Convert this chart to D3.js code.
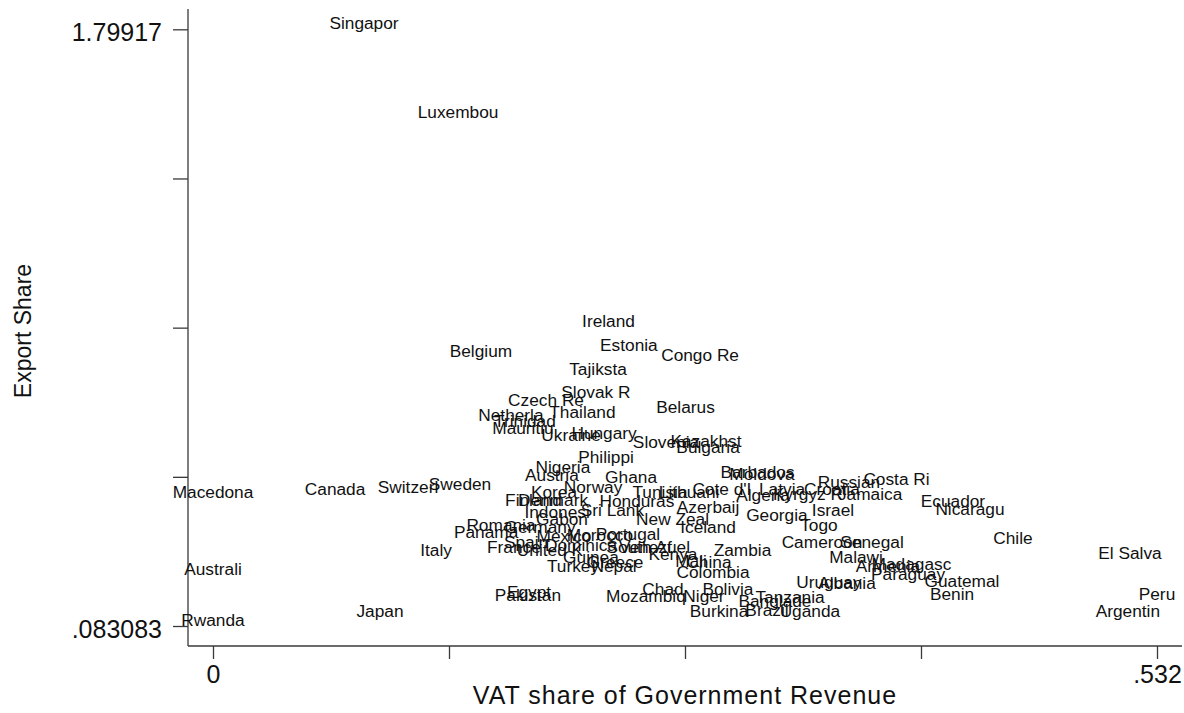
<!DOCTYPE html>
<html>
<head>
<meta charset="utf-8">
<script src="https://cdn.jsdelivr.net/npm/d3@7"></script>
<style>
  html, body { margin: 0; padding: 0; background: #ffffff; }
  svg { display: block; font-family: "Liberation Sans", Arial, Helvetica, sans-serif; }
</style>
</head>
<body>
<svg id="chart" width="1184" height="713"></svg>
<script>
const countries = ["Singapor","Luxembou","Ireland","Belgium","Estonia","Congo Re","Tajiksta","Slovak R","Czech Re","Belarus","Thailand","Netherla","Trinidad","Mauritiu","Ukraine","Hungary","Slovenia","Kazakhst","Bulgaria","Philippi","Nigeria","Austria","Ghana","Barbados","Moldova","Costa Ri","Russian","Norway","Sweden","Switzerl","Canada","Macedona","Cote d'I","Latvia","Croatia","Korea","Tunisia","Lithuani","Jamaica","Kyrgyz R","Algeria","Finland","Denmark","Honduras","Ecuador","Azerbaij","Nicaragu","Sri Lank","Israel","Indonesi","Georgia","Gabon","New Zeal","Togo","Romania","Germany","Iceland","Panama","Portugal","Mexico","Morocco","Chile","Spain","Cameroon","Senegal","Dominica","France","South Af","Venezuel","Italy","United K","Zambia","El Salva","Kenya","Guinea","Malawi","Mali","China","Greece","Madagasc","Turkey","Nepal","Armenia","Australi","Colombia","Paraguay","Guatemal","Uruguay","Albania","Bolivia","Chad","Egypt","Benin","Peru","Pakistan","Mozambiq","Niger","Tanzania","Banglade","Brazil","Argentin","Uganda","Japan","Burkina","Rwanda"];
const vatShare = [0.0851,0.1381,0.2229,0.1510,0.2344,0.2745,0.2170,0.2158,0.1877,0.2663,0.2082,0.1679,0.1758,0.1747,0.2018,0.2204,0.2553,0.2778,0.2790,0.2215,0.1972,0.1910,0.2356,0.3069,0.3094,0.3852,0.3584,0.2142,0.1392,0.1099,0.0688,0.0,0.2868,0.3207,0.3488,0.1922,0.2519,0.2683,0.3703,0.3353,0.3100,0.1806,0.1916,0.2389,0.4170,0.2790,0.4266,0.2251,0.3494,0.1939,0.3178,0.1967,0.2590,0.3415,0.1623,0.1843,0.2790,0.1539,0.2339,0.1978,0.2181,0.4508,0.1764,0.3432,0.3714,0.2074,0.1696,0.2401,0.2488,0.1257,0.1899,0.2984,0.5168,0.2592,0.2130,0.3624,0.2694,0.2795,0.2266,0.3936,0.2029,0.2260,0.3804,0.0,0.2818,0.3917,0.4221,0.3471,0.3573,0.2902,0.2536,0.1781,0.4165,0.532,0.1775,0.2440,0.2767,0.3252,0.3167,0.3122,0.5156,0.3364,0.0941,0.2852,0.0];
const exportShare = [1.79917,1.5441,0.9439,0.8576,0.8740,0.8452,0.8050,0.7380,0.7144,0.6957,0.6799,0.6727,0.6540,0.6353,0.6152,0.6209,0.5950,0.5979,0.5806,0.5519,0.5231,0.5015,0.4944,0.5087,0.5030,0.4886,0.4800,0.4656,0.4742,0.4656,0.4598,0.4512,0.4598,0.4598,0.4598,0.4512,0.4512,0.4512,0.4455,0.4455,0.4426,0.4282,0.4282,0.4253,0.4253,0.4081,0.4023,0.3995,0.3995,0.3937,0.3851,0.3736,0.3736,0.3549,0.3549,0.3506,0.3506,0.3362,0.3304,0.3261,0.3275,0.3189,0.3074,0.3074,0.3074,0.2974,0.2930,0.2930,0.2930,0.2830,0.2830,0.2830,0.2758,0.2729,0.2643,0.2643,0.2528,0.2499,0.2499,0.2441,0.2398,0.2384,0.2384,0.2298,0.2211,0.2154,0.1953,0.1924,0.1895,0.1722,0.1722,0.1636,0.1579,0.1579,0.1564,0.1535,0.1535,0.1492,0.1378,0.1119,0.1104,0.1090,0.1090,0.1090,0.083083];

const xTicks = [0, 0.133, 0.266, 0.399, 0.532];
const xTickLabels = ["0", "", "", "", ".532"];
const yTicks = [0.083083, 0.512105, 0.941127, 1.370148, 1.79917];
const yTickLabels = [".083083", "", "", "", "1.79917"];
const xTitle = "VAT share of Government Revenue";
const yTitle = "Export Share";

const svg = d3.select("#chart");
const x = d3.scaleLinear().domain([0, 0.532]).range([213, 1157]);
const y = d3.scaleLinear().domain([0.083083, 1.79917]).range([626, 29.3]);

const axisColor = "#3a3a3a";
const plotLeft = 188, plotBottom = 646, plotTop = 9, plotRight = 1182;

// Y axis
const yAxis = d3.axisLeft(y).tickValues(yTicks)
  .tickFormat((d, i) => yTickLabels[i]).tickSize(15).tickPadding(11);
const gy = svg.append("g").attr("transform", `translate(${plotLeft},0)`).call(yAxis);
gy.select(".domain").remove();
gy.selectAll(".tick line").attr("stroke", axisColor).attr("stroke-width", 1.3);
gy.selectAll(".tick text").attr("font-size", 25).attr("fill", "#111")
  .attr("font-family", "Liberation Sans, Arial, sans-serif").attr("dy", "0.45em");
svg.append("line").attr("x1", plotLeft).attr("x2", plotLeft)
  .attr("y1", plotTop).attr("y2", plotBottom).attr("stroke", axisColor).attr("stroke-width", 1.3);

// X axis
const xAxis = d3.axisBottom(x).tickValues(xTicks)
  .tickFormat((d, i) => xTickLabels[i]).tickSize(13).tickPadding(6);
const gx = svg.append("g").attr("transform", `translate(0,${plotBottom})`).call(xAxis);
gx.select(".domain").remove();
gx.selectAll(".tick line").attr("stroke", axisColor).attr("stroke-width", 1.3);
gx.selectAll(".tick text").attr("font-size", 25).attr("fill", "#111")
  .attr("font-family", "Liberation Sans, Arial, sans-serif");
svg.append("line").attr("x1", plotLeft).attr("x2", plotRight)
  .attr("y1", plotBottom).attr("y2", plotBottom).attr("stroke", axisColor).attr("stroke-width", 1.3);

// Titles
svg.append("text").attr("x", (plotLeft + plotRight) / 2).attr("y", 704)
  .attr("text-anchor", "middle").attr("font-size", 25).attr("letter-spacing", 1)
  .attr("fill", "#111").text(xTitle);
svg.append("text").attr("transform", `translate(31,331) rotate(-90)`)
  .attr("text-anchor", "middle").attr("font-size", 23)
  .attr("fill", "#111").text(yTitle);

// Marker labels (centered, baseline at data point)
const data = countries.map((c, i) => ({ name: c, vx: vatShare[i], vy: exportShare[i] }));
svg.append("g").selectAll("text").data(data).join("text")
  .attr("x", d => x(d.vx)).attr("y", d => y(d.vy))
  .attr("text-anchor", "middle").attr("font-size", 17.3)
  .attr("fill", "#111").text(d => d.name);
</script>
</body>
</html>
